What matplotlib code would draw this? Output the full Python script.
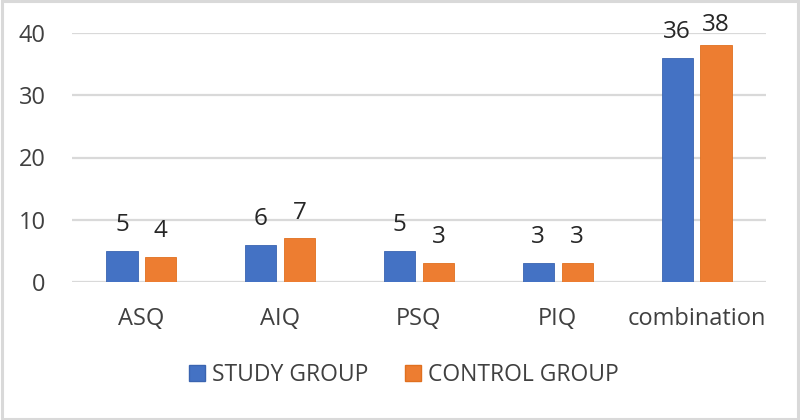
import matplotlib
matplotlib.use("Agg")
import matplotlib.pyplot as plt
from matplotlib.patches import Rectangle, Patch
import numpy as np

categories = ["ASQ", "AIQ", "PSQ", "PIQ", "combination"]
study_group = [5, 6, 5, 3, 36]
control_group = [4, 7, 3, 3, 38]
series_names = ["STUDY GROUP", "CONTROL GROUP"]
yticks = [0, 10, 20, 30, 40]

BLUE = "#4472C4"
ORANGE = "#ED7D31"
GRID = "#D9D9D9"
TXT = "#404040"

plt.rcParams["font.family"] = ["Open Sans", "DejaVu Sans"]

fig = plt.figure(figsize=(8, 4.2), dpi=100)
ax = fig.add_axes([0.09, 0.3286, 0.8675, 0.5928])

x = np.arange(len(categories))
w = 0.225
off = 0.14
b1 = ax.bar(x - off, study_group, w, color=BLUE, edgecolor="#3A64B0", linewidth=0.6, zorder=3)
b2 = ax.bar(x + off, control_group, w, color=ORANGE, edgecolor="#E0701F", linewidth=0.6, zorder=3)

for bars, vals in ((b1, study_group), (b2, control_group)):
    for r, v in zip(bars, vals):
        oy = 10 if v < 37 else 6
        ax.annotate(str(v), (r.get_x() + r.get_width() / 2, v), xytext=(0, oy),
                    textcoords="offset points", ha="center", va="bottom",
                    fontsize=17.5, color="#262626")

ax.set_xlim(-0.5, len(categories) - 0.5)
ax.set_ylim(0, 40)
ax.set_yticks(yticks)
ax.set_xticks(x)
ax.set_xticklabels(categories)
ax.tick_params(axis="both", length=0, labelsize=17, labelcolor=TXT)
ax.tick_params(axis="x", pad=18)
ax.tick_params(axis="y", pad=19)
ax.yaxis.grid(True, color=GRID, linewidth=1.6, zorder=0)
ax.set_axisbelow(True)
for s in ax.spines.values():
    s.set_visible(False)

handles = [Patch(facecolor=BLUE, edgecolor="#3A64B0"), Patch(facecolor=ORANGE, edgecolor="#E0701F")]
fig.legend(handles, series_names, loc="center", bbox_to_anchor=(0.505, (420 - 375) / 420),
           ncol=2, frameon=False, fontsize=16.5, handlelength=0.7, handleheight=0.7,
           handletextpad=0.3, columnspacing=1.6, labelcolor=TXT)

fig.patches.append(Rectangle((0.002, 0.003), 0.996, 0.994, transform=fig.transFigure,
                             fill=False, edgecolor=GRID, linewidth=2.2))

fig.savefig("out.png", dpi=100)
